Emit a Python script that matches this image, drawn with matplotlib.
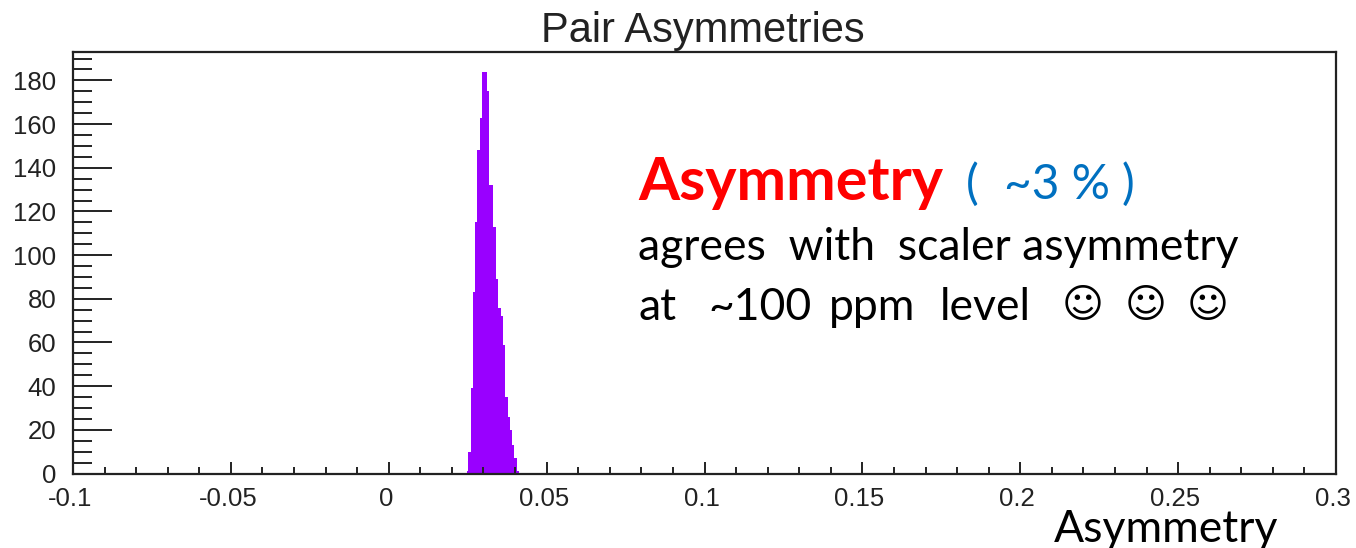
import matplotlib
matplotlib.use('Agg')
import matplotlib.pyplot as plt
from matplotlib.ticker import MultipleLocator
from matplotlib.transforms import ScaledTranslation

# Bin edges and counts
bin_edges = [0.0247, 0.0252, 0.0260, 0.0266, 0.0273, 0.0280, 0.0289, 0.0296,
             0.0304, 0.0310, 0.0318, 0.0325, 0.0331, 0.0340, 0.0347, 0.0355,
             0.0362, 0.0368, 0.0377, 0.0383, 0.0390, 0.0398, 0.0405, 0.0413]
counts = [1, 10, 39, 83, 115, 148, 163, 184, 184, 175, 132, 132,
          113, 89, 76, 72, 59, 35, 26, 20, 13, 7, 1]
x_ticks = [-0.1, -0.05, 0, 0.05, 0.1, 0.15, 0.2, 0.25, 0.3]
x_labels = ['-0.1', '-0.05', '0', '0.05', '0.1', '0.15', '0.2', '0.25', '0.3']
y_ticks = [0, 20, 40, 60, 80, 100, 120, 140, 160, 180]

W, H = 1356, 548
INK = '#222222'
plt.rcParams['font.family'] = ['Liberation Sans', 'DejaVu Sans']

fig = plt.figure(figsize=(W / 100, H / 100), dpi=100)
ax = fig.add_axes([73 / W, 1 - 473.5 / H, (1336 - 73) / W, (473.5 - 52) / H])


def note(px, py, s, size, color='black', weight='normal', family='Lato'):
    # place text by pixel position of the left end of its baseline
    fig.text(px / W, 1 - py / H, s, fontsize=size, color=color, weight=weight,
             family=family, ha='left', va='baseline')


ax.stairs(counts, bin_edges, fill=True, color='#9900FF', linewidth=0)

ax.set_xlim(-0.1, 0.3)
ax.set_ylim(0, 193)
ax.set_xticks(x_ticks)
ax.set_xticklabels(x_labels)
ax.set_yticks(y_ticks)
ax.xaxis.set_minor_locator(MultipleLocator(0.01))
ax.yaxis.set_minor_locator(MultipleLocator(5))

for side in ax.spines.values():
    side.set_linewidth(1.6)
    side.set_color(INK)
ax.tick_params(axis='x', which='major', direction='in', length=9, width=1.4,
               color=INK, labelcolor=INK, labelsize=18.5, pad=10)
ax.tick_params(axis='x', which='minor', direction='in', length=5, width=1.4, color=INK)
ax.tick_params(axis='y', which='major', direction='in', length=28, width=1.4,
               color=INK, labelcolor=INK, labelsize=18.5, pad=12)
ax.tick_params(axis='y', which='minor', direction='in', length=14, width=1.4, color=INK)

# x labels sit a little left of their ticks
shift = ScaledTranslation(-3 / 100, 0, fig.dpi_scale_trans)
for lab in ax.get_xticklabels():
    lab.set_transform(lab.get_transform() + shift)

fig.text(703 / W, 1 - 42 / H, 'Pair Asymmetries', fontsize=30, color=INK,
         ha='center', va='baseline')

note(638, 200, 'Asymmetry', 42.7, color='#FF0000', weight='bold')
note(966, 199, '(', 34.5, color='#0070C0')
note(1004, 199, '~3 %', 34.5, color='#0070C0')
note(1122, 199, ')', 34.5, color='#0070C0')
note(638, 260, 'agrees  with  scaler asymmetry', 32)
note(638, 320, 'at', 32)
note(708, 320, '~100', 32)
note(829, 320, 'ppm', 32)
note(940, 320, 'level', 32)
for sx in [1062, 1125, 1187]:
    note(sx, 317, '\u263a', 29, family='DejaVu Sans')
note(1054, 542, 'Asymmetry', 32)

fig.savefig('out.png', dpi=100)
